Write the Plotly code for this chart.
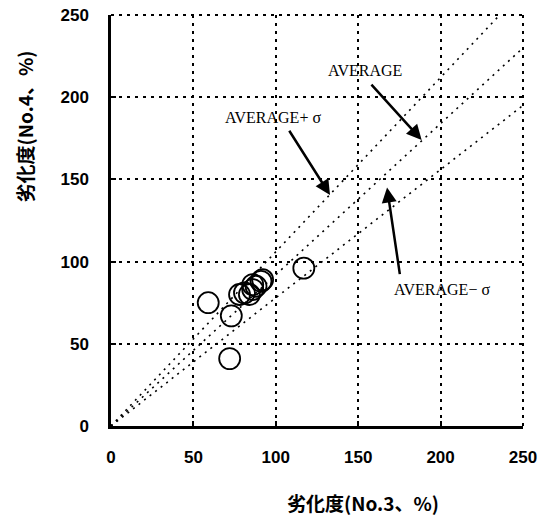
import plotly.graph_objects as go

# Data
x_no3 = [117, 59, 73, 72, 78, 81, 84, 86, 86, 88, 91, 92]
y_no4 = [96, 75, 67, 41, 80, 81, 80, 83, 86, 85, 88, 89]

line_x = [0, 250]
slope_avg = 0.92
slope_plus = 1.06
slope_minus = 0.78

tick_vals = [0, 50, 100, 150, 200, 250]
tick_text = ["0", "50", "100", "150", "200", "250"]

fig = go.Figure()

for s in [slope_plus, slope_avg, slope_minus]:
    fig.add_trace(go.Scatter(
        x=line_x, y=[v * s for v in line_x], mode="lines",
        line=dict(color="black", width=1.6, dash="2px,5px"),
        hoverinfo="skip", showlegend=False))

fig.add_trace(go.Scatter(
    x=x_no3, y=y_no4, mode="markers",
    marker=dict(symbol="circle-open", size=21, color="black", line=dict(width=1.8)),
    showlegend=False))

tick_font = dict(family="Liberation Sans, Arial", size=17, color="black", weight="bold")
axis_common = dict(
    range=[0, 250], tickvals=tick_vals, ticktext=tick_text,
    showgrid=True, gridcolor="black", griddash="3px,5px", gridwidth=2,
    zeroline=False, showline=True, linecolor="black", linewidth=2.5,
    ticks="inside", ticklen=5, tickwidth=2, tickcolor="black",
    tickfont=tick_font, fixedrange=True, automargin=False,
)
fig.update_xaxes(**axis_common, ticklabelstandoff=14)
fig.update_yaxes(**axis_common, ticklabelstandoff=16)

# dotted top / right frame (gridlines at 250)
for sh in [dict(x0=0, x1=1, y0=1, y1=1), dict(x0=1, x1=1, y0=0, y1=1)]:
    fig.add_shape(type="line", xref="paper", yref="paper", **sh,
                  line=dict(color="black", width=2, dash="3px,5px"))

serif = dict(family="Liberation Serif, Times New Roman", size=16, color="black")
annos = [
    dict(x=154, y=216.5, text="AVERAGE"),
    dict(x=98, y=187.5, text="AVERAGE+ σ"),
    dict(x=201, y=83, text="AVERAGE− σ"),
]
for a in annos:
    fig.add_annotation(x=a["x"], y=a["y"], xref="x", yref="y", text=a["text"],
                       showarrow=False, font=serif)

arrows = [
    ((157.2, 208.6), (188.5, 174.0)),
    ((107.6, 180.5), (132.9, 140.5)),
    ((175.4, 91.5), (167.5, 145.0)),
]
for (tx, ty), (hx, hy) in arrows:
    fig.add_annotation(x=hx, y=hy, ax=tx, ay=ty, xref="x", yref="y",
                       axref="x", ayref="y", text="", showarrow=True,
                       arrowhead=2, arrowsize=1.2, arrowwidth=2.5, arrowcolor="black")

title_font = dict(family="Noto Sans CJK JP", size=19, color="black", weight="bold")
fig.add_annotation(x=-0.21, y=0.73, xref="paper", yref="paper",
                   xanchor="center", yanchor="middle",
                   text="劣化度(No.4、%)", textangle=-90, showarrow=False, font=title_font)
fig.add_annotation(x=0.612, y=-0.185, xref="paper", yref="paper",
                   xanchor="center", yanchor="middle",
                   text="劣化度(No.3、%)", showarrow=False, font=title_font)

fig.update_layout(
    width=542, height=516,
    margin=dict(l=111, r=19, t=15, b=90),
    plot_bgcolor="white", paper_bgcolor="white",
)

fig.write_html("out.html", config={"displayModeBar": False},
               post_script="document.body.style.margin='0';")
